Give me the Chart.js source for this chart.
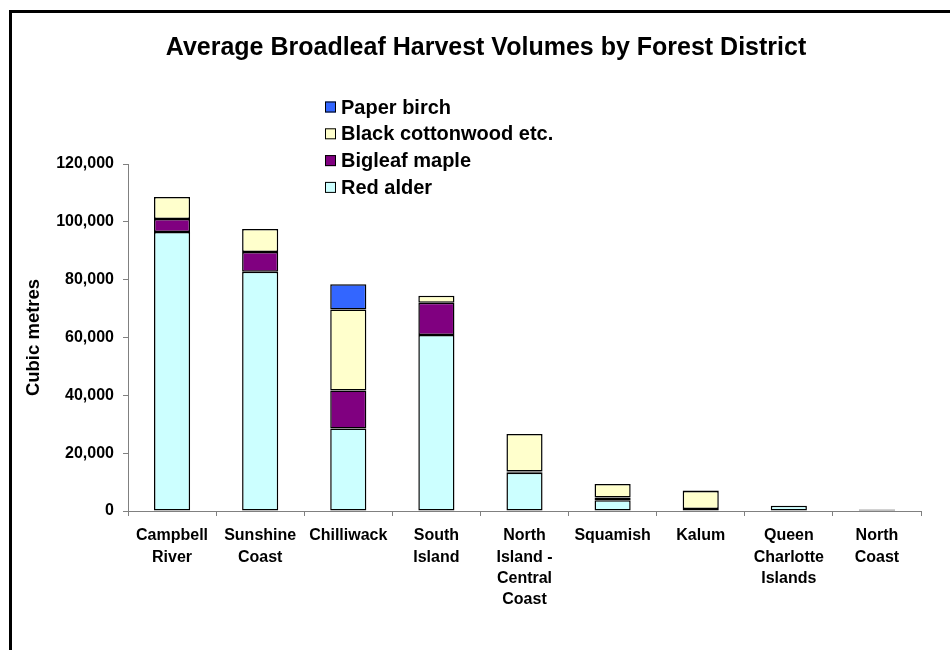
<!DOCTYPE html>
<html lang="en">
<head>
<meta charset="utf-8">
<title>Average Broadleaf Harvest Volumes by Forest District</title>
<script src="https://cdn.jsdelivr.net/npm/chart.js@4.4.1/dist/chart.umd.min.js"></script>
<style>
  html, body { margin: 0; padding: 0; background: #fff; overflow: hidden; }
  #frame {
    position: absolute; left: 9px; top: 10px;
    width: 1000px; height: 700px;
    border: 3px solid #000;
  }
  #chartBox { position: absolute; left: 0; top: 0; width: 950px; height: 650px; }
</style>
</head>
<body>
<div id="frame"></div>
<div id="chartBox"><canvas id="harvestChart" width="950" height="650"></canvas></div>
<script>
// Datos (metros cubicos)
const districts = [
  ['Campbell', 'River'],
  ['Sunshine', 'Coast'],
  'Chilliwack',
  ['South', 'Island'],
  ['North', 'Island -', 'Central', 'Coast'],
  'Squamish',
  'Kalum',
  ['Queen', 'Charlotte', 'Islands'],
  ['North', 'Coast']
];
const redAlder        = [96500, 82700, 28500, 60900, 13200, 3700, 700, 1800, 400];
const bigleafMaple    = [4500, 6900, 13200, 11100, 500, 1000, 0, 0, 100];
const blackCottonwood = [7600, 7900, 28000, 2400, 12900, 4600, 6200, 0, 100];
const paperBirch      = [0, 0, 8700, 0, 0, 0, 200, 0, 0];
const yTicks = [0, 20000, 40000, 60000, 80000, 100000, 120000];

const chartTitle = 'Average Broadleaf Harvest Volumes by Forest District';
const FONT = '"Liberation Sans", Arial, sans-serif';

// Titulo y leyenda dibujados como en el original (leyenda dentro del area)
const furniturePlugin = {
  id: 'furniture',
  afterDraw(chart) {
    const ctx = chart.ctx;
    ctx.save();
    ctx.fillStyle = '#000';
    ctx.textBaseline = 'middle';
    ctx.textAlign = 'center';
    ctx.font = `bold 25px ${FONT}`;
    ctx.fillText(chartTitle, 486, 48);

    // leyenda en orden inverso al apilado
    ctx.textAlign = 'left';
    ctx.font = `bold 20px ${FONT}`;
    const sets = chart.data.datasets.slice().reverse();
    sets.forEach((ds, i) => {
      const y = 107 + i * 26.8;
      ctx.fillStyle = ds.backgroundColor;
      ctx.fillRect(325, y - 5.5, 11, 11);
      ctx.strokeStyle = '#000';
      ctx.lineWidth = 1;
      ctx.strokeRect(325.5, y - 5, 10, 10);
      ctx.fillStyle = '#000';
      ctx.fillText(ds.label, 341, y + 1);
    });
    ctx.restore();
  }
};

function makeSet(label, data, color) {
  return {
    label: label,
    data: data,
    backgroundColor: color,
    borderColor: '#000',
    borderWidth: 1.5,
    borderSkipped: false,
    categoryPercentage: 1,
    barPercentage: 0.41
  };
}

document.addEventListener('DOMContentLoaded', () => {
  const ctx = document.getElementById('harvestChart').getContext('2d');

  new Chart(ctx, {
    type: 'bar',
    data: {
      labels: districts,
      datasets: [
        makeSet('Red alder', redAlder, '#CCFFFF'),
        makeSet('Bigleaf maple', bigleafMaple, '#800080'),
        makeSet('Black cottonwood etc.', blackCottonwood, '#FFFFCC'),
        makeSet('Paper birch', paperBirch, '#3366FF')
      ]
    },
    options: {
      responsive: false,
      animation: false,
      devicePixelRatio: 1,
      layout: {
        padding: { top: 164, right: 29, bottom: 0, left: 0 }
      },
      plugins: {
        legend: { display: false },
        title: { display: false },
        tooltip: { enabled: false }
      },
      scales: {
        x: {
          stacked: true,
          grid: {
            offset: true,
            drawOnChartArea: false,
            drawTicks: true,
            tickLength: 5,
            color: '#808080'
          },
          border: { color: '#808080', width: 1 },
          ticks: {
            color: '#000',
            autoSkip: false,
            maxRotation: 0,
            minRotation: 0,
            padding: 9,
            font: { family: FONT, size: 16, weight: 'bold', lineHeight: 1.34 }
          },
          afterFit(scale) {
            scale.height = 139;
          }
        },
        y: {
          stacked: true,
          min: 0,
          max: 120000,
          afterBuildTicks(scale) {
            scale.ticks = yTicks.map(v => ({ value: v }));
          },
          grid: {
            drawOnChartArea: false,
            drawTicks: true,
            tickLength: 5,
            color: '#808080'
          },
          border: { color: '#808080', width: 1 },
          ticks: {
            color: '#000',
            padding: 9,
            font: { family: FONT, size: 16, weight: 'bold' },
            callback: value => value.toLocaleString('en-US')
          },
          title: {
            display: true,
            text: 'Cubic metres',
            color: '#000',
            padding: { top: 23, bottom: 0 },
            font: { family: FONT, size: 18.5, weight: 'bold', lineHeight: 1.2 }
          },
          afterFit(scale) {
            scale.width = 128;
          }
        }
      }
    },
    plugins: [furniturePlugin]
  });
});
</script>
</body>
</html>
